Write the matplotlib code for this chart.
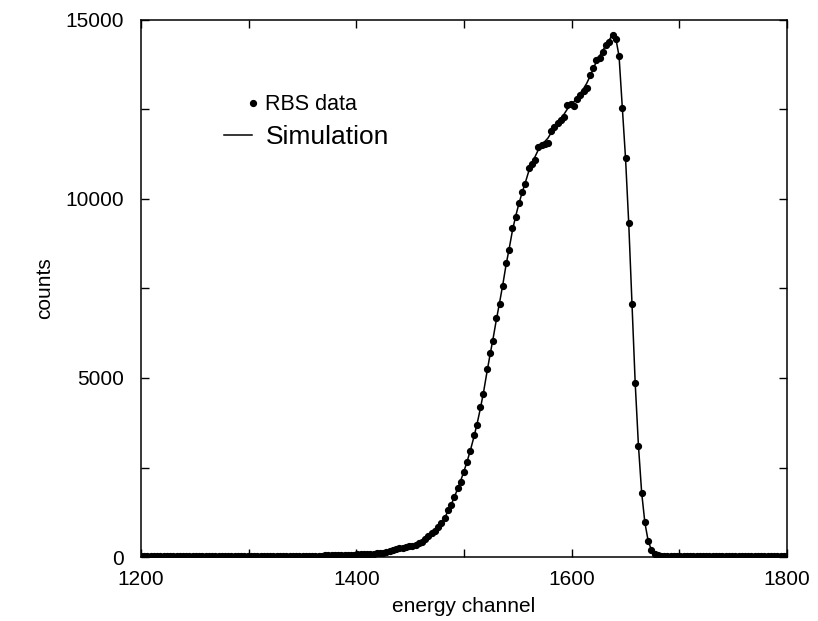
import numpy as np
import matplotlib
matplotlib.use("Agg")
import matplotlib.pyplot as plt
from matplotlib.lines import Line2D
from matplotlib.ticker import MultipleLocator

plt.rcParams["font.family"] = ["Liberation Sans", "DejaVu Sans"]

# energy channels, one every 3 channels
channels = np.arange(1200, 1801, 3)

rbs_counts = [
    28, 25, 22, 26, 24, 21, 25, 23, 27, 22, 24, 26, 21, 25, 23, 24, 27, 22, 25, 24,
    26, 23, 25, 28, 24, 26, 25, 27, 24, 28, 26, 29, 27, 30,
    28, 31, 29, 32, 30, 33, 31, 33, 34, 32, 35, 36, 34, 37, 36, 38, 37, 39, 40, 39,
    41, 42, 41, 44, 45, 47,
    50, 53, 56, 59, 62, 65, 69, 73, 77, 82, 87, 92, 97, 101, 106, 125, 148, 168, 190, 215,
    243, 262, 282, 300, 318, 345, 380, 430, 503, 580, 662, 740, 830, 960, 1081, 1300,
    1452, 1684, 1919, 2100, 2382, 2640, 2969, 3400, 3680, 4190, 4561, 5243, 5698, 6024,
    6667, 7066, 7569, 8203, 8583, 9180, 9488, 9879, 10194, 10418, 10874, 10968, 11088,
    11460, 11507, 11530, 11554, 11898, 12018, 12130, 12210, 12298, 12624, 12652, 12597,
    12784, 12900, 13024, 13091, 13462, 13649, 13881, 13929, 14096, 14300, 14392, 14579,
    14459, 13993, 12529, 11152, 9337, 7066, 4851, 3100, 1796, 969, 447, 196, 84, 52, 38,
    32, 28, 25, 23, 24, 22, 21, 23, 22, 20, 22, 21, 23, 20, 22, 21, 20, 22, 21, 23,
    20, 21, 22, 20, 21, 23, 22, 20, 21, 22, 20, 21, 22, 20, 21, 22, 20, 21, 20,
]

# simulated spectrum
sim_counts = [
    24, 24, 24, 24, 24, 24, 24, 24, 24, 24, 24, 24, 24, 24, 24, 24, 25, 25, 25, 25,
    25, 25, 25, 25, 26, 26, 26, 26, 26, 27, 27, 27, 28, 28,
    28, 29, 29, 30, 30, 31, 31, 32, 32, 33, 34, 34, 35, 36, 36, 37, 38, 39, 40, 40,
    41, 42, 43, 44, 46, 48,
    50, 53, 56, 59, 62, 66, 70, 74, 78, 83, 88, 93, 99, 105, 113, 126, 145, 166, 189, 213,
    236, 258, 279, 300, 323, 350, 385, 432, 495, 572, 656, 745, 845, 960, 1100, 1270,
    1460, 1670, 1900, 2140, 2400, 2680, 2990, 3330, 3700, 4120, 4580, 5110, 5620, 6100,
    6620, 7100, 7600, 8150, 8620, 9120, 9520, 9870, 10180, 10460, 10760, 10990, 11180,
    11370, 11500, 11600, 11700, 11850, 11990, 12120, 12240, 12370, 12510, 12620, 12710,
    12820, 12950, 13080, 13230, 13420, 13630, 13840, 14000, 14150, 14300, 14440, 14600,
    14480, 13990, 12560, 11150, 9320, 7080, 4860, 3120, 1800, 960, 460, 200, 90, 50, 35,
    28, 25, 23, 22, 22, 22, 22, 22, 22, 22, 22, 22, 22, 22, 22, 22, 22, 22, 22, 22,
    22, 22, 22, 22, 22, 22, 22, 22, 22, 22, 22, 22, 22, 22, 22, 22, 22, 22, 22,
]

assert len(rbs_counts) == len(channels) == len(sim_counts)

fig = plt.figure(figsize=(8.18, 6.21), dpi=100)
ax = fig.add_axes([0.1724, 0.103, 0.7897, 0.865])

ax.plot(channels, sim_counts, "-", color="black", linewidth=1.1, zorder=2)
ax.plot(channels, rbs_counts, "o", color="black", markersize=4.2, zorder=3)

ax.set_xlim(1200, 1800)
ax.set_ylim(0, 15000)
ax.xaxis.set_major_locator(MultipleLocator(200))
ax.xaxis.set_minor_locator(MultipleLocator(100))
ax.yaxis.set_major_locator(MultipleLocator(5000))
ax.yaxis.set_minor_locator(MultipleLocator(2500))
ax.tick_params(which="both", direction="in", top=True, right=True, width=1)
ax.tick_params(which="major", length=6, labelsize=15)
ax.tick_params(which="minor", length=6)
ax.tick_params(axis="y", pad=12)
ax.tick_params(axis="x", pad=9)
for s in ax.spines.values():
    s.set_linewidth(1.1)

ax.set_xlabel("energy channel", fontsize=15)
ax.set_ylabel("counts", fontsize=15)
ax.xaxis.set_label_coords(0.5, -0.075)
ax.yaxis.set_label_coords(-0.135, 0.5)

# two keys, gnuplot-like layout with different text sizes
leg1 = ax.legend(handles=[Line2D([], [], marker="o", ls="none", color="black", markersize=4.2)],
                 labels=["RBS data"], loc="center left", bbox_to_anchor=(0.1667, 0.8417),
                 frameon=False, fontsize=15.5, handlelength=0.4, handletextpad=0.36,
                 borderpad=0, borderaxespad=0)
ax.add_artist(leg1)
ax.legend(handles=[Line2D([], [], color="black", linewidth=1.1)], labels=["Simulation"],
          loc="center left", bbox_to_anchor=(0.1285, 0.782), frameon=False, fontsize=19,
          handlelength=1.06, handletextpad=0.53, borderpad=0, borderaxespad=0)

fig.savefig("out.png", dpi=100)
